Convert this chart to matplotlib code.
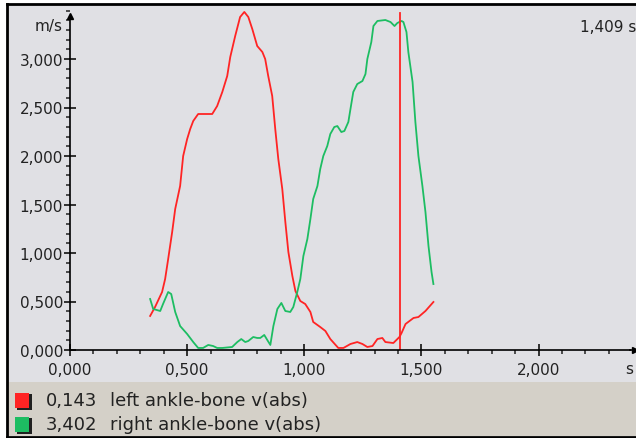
import numpy as np
import matplotlib
matplotlib.use("Agg")
import matplotlib.pyplot as plt
from matplotlib.patches import Rectangle
from matplotlib.ticker import MultipleLocator, FuncFormatter

# values (time in s, speed in m/s)
left_t = [0.342, 0.363, 0.393, 0.406, 0.419, 0.436, 0.449, 0.470, 0.483, 0.500,
          0.513, 0.526, 0.547, 0.607, 0.628, 0.650, 0.671, 0.684, 0.705, 0.726,
          0.744, 0.761, 0.778, 0.799, 0.821, 0.833, 0.846, 0.863, 0.876, 0.889,
          0.906, 0.919, 0.932, 0.949, 0.962, 0.983, 1.004, 1.026, 1.038, 1.068,
          1.090, 1.111, 1.145, 1.167, 1.197, 1.226, 1.248, 1.269, 1.291, 1.312,
          1.333, 1.346, 1.380, 1.406, 1.415, 1.432, 1.466, 1.487, 1.517, 1.551]
left_v = [0.351, 0.443, 0.598, 0.732, 0.938, 1.216, 1.454, 1.691, 2.000, 2.175,
          2.278, 2.361, 2.433, 2.433, 2.515, 2.660, 2.825, 3.021, 3.237, 3.433,
          3.485, 3.433, 3.309, 3.134, 3.072, 3.000, 2.825, 2.619, 2.278, 1.969,
          1.660, 1.320, 1.010, 0.763, 0.608, 0.505, 0.474, 0.392, 0.289, 0.237,
          0.196, 0.113, 0.021, 0.021, 0.062, 0.082, 0.062, 0.031, 0.041, 0.113,
          0.124, 0.082, 0.072, 0.134, 0.175, 0.268, 0.330, 0.340, 0.402, 0.495]

right_t = [0.342, 0.355, 0.385, 0.397, 0.419, 0.432, 0.449, 0.470, 0.500, 0.526,
           0.547, 0.568, 0.590, 0.611, 0.628, 0.650, 0.692, 0.714, 0.731, 0.748,
           0.761, 0.782, 0.799, 0.812, 0.829, 0.842, 0.855, 0.868, 0.885, 0.902,
           0.919, 0.940, 0.953, 0.970, 0.983, 0.996, 1.013, 1.026, 1.038, 1.056,
           1.068, 1.081, 1.098, 1.111, 1.128, 1.141, 1.158, 1.171, 1.188, 1.197,
           1.209, 1.226, 1.248, 1.261, 1.269, 1.286, 1.295, 1.312, 1.346, 1.368,
           1.385, 1.397, 1.415, 1.423, 1.436, 1.444, 1.462, 1.474, 1.487, 1.504,
           1.517, 1.530, 1.543, 1.551]
right_v = [0.526, 0.423, 0.402, 0.474, 0.598, 0.577, 0.392, 0.247, 0.165, 0.082,
           0.021, 0.021, 0.052, 0.041, 0.021, 0.021, 0.031, 0.082, 0.113, 0.082,
           0.093, 0.134, 0.124, 0.124, 0.155, 0.103, 0.052, 0.247, 0.423, 0.485,
           0.402, 0.392, 0.443, 0.598, 0.732, 0.969, 1.144, 1.351, 1.557, 1.691,
           1.866, 2.000, 2.103, 2.227, 2.299, 2.309, 2.247, 2.258, 2.351, 2.485,
           2.660, 2.742, 2.773, 2.845, 3.000, 3.175, 3.340, 3.392, 3.402, 3.381,
           3.340, 3.371, 3.392, 3.381, 3.278, 3.072, 2.763, 2.351, 2.000, 1.691,
           1.423, 1.072, 0.804, 0.680]

cursor_t = 1.409
series_names = ["left ankle-bone v(abs)", "right ankle-bone v(abs)"]
cursor_values = ["0,143", "3,402"]

red = "#ff2424"
green = "#1dbd62"

W, H = 636, 439
fig = plt.figure(figsize=(W / 100, H / 100), dpi=100)
fig.patch.set_facecolor("white")


def fx(px):
    return px / W


def fy(py):
    return 1 - py / H


# grey plot panel and legend strip, black frame (behind the axes)
fig.add_artist(Rectangle((fx(8), fy(383)), fx(636 - 8), (383 - 6) / H,
                         facecolor="#e0e0e4", edgecolor="none", zorder=-10))
fig.add_artist(Rectangle((fx(8), fy(437)), fx(636 - 8), (437 - 383) / H,
                         facecolor="#d4d0c8", edgecolor="none", zorder=-10))
fig.add_artist(plt.Line2D([fx(7), fx(7)], [fy(438), fy(5)], color="black", lw=2))
fig.add_artist(plt.Line2D([fx(7), 1], [fy(5), fy(5)], color="black", lw=2))
fig.add_artist(plt.Line2D([fx(7), 1], [fy(438), fy(438)], color="black", lw=2))

ax = fig.add_axes([fx(70), fy(351), fx(630 - 70), (351 - 11.5) / H])
ax.set_facecolor("none")
ax.set_xlim(0, 2.39)
ax.set_ylim(0, 3.5)

ax.plot(left_t, left_v, color=red, lw=1.3, clip_on=False)
ax.plot(right_t, right_v, color=green, lw=1.3, clip_on=False)
ax.plot([cursor_t, cursor_t], [0, 3.47], color=red, lw=1.3)

for s in ["top", "right"]:
    ax.spines[s].set_visible(False)
ax.spines["left"].set_bounds(0, 3.42)
ax.spines["left"].set_linewidth(1.2)
ax.spines["bottom"].set_linewidth(1.2)
# axis arrows
ax.plot([0], [3.44], marker="^", color="black", ms=4, clip_on=False)
ax.plot([2.39, 2.41], [0, 0], color="black", lw=1.2, clip_on=False)
ax.plot([2.41], [0], marker=">", color="black", ms=4, clip_on=False)

fmt = FuncFormatter(lambda v, p: f"{v:.3f}".replace(".", ","))
ax.xaxis.set_minor_locator(MultipleLocator(0.1))
ax.yaxis.set_minor_locator(MultipleLocator(0.1))
ax.set_xticks(np.arange(0, 2.01, 0.5))
ax.set_yticks(np.arange(0, 3.01, 0.5))
ax.xaxis.set_major_formatter(fmt)
ax.yaxis.set_major_formatter(fmt)
ax.tick_params(which="major", direction="inout", length=8, width=1.3,
               labelsize=11, colors="#222222")
ax.tick_params(axis="x", which="major", pad=5)
ax.tick_params(axis="y", which="major", pad=1)
ax.tick_params(which="minor", direction="out", length=3, width=1.1,
               color="#222222")

fig.text(fx(625), fy(369), "s", fontsize=11, color="#222222",
         ha="left", va="center")
fig.text(fx(63), fy(26), "m/s", fontsize=11, color="#222222",
         ha="right", va="center")
fig.text(fx(580), fy(27), "1,409 s", fontsize=11, color="#222222",
         ha="left", va="center")

# legend rows
for i, (name, val, col) in enumerate(zip(series_names, cursor_values, [red, green])):
    yc = 401 + i * 24
    fig.add_artist(Rectangle((fx(16.5), fy(yc + 9.5)), fx(15), 16 / H,
                             facecolor="#202020", edgecolor="none"))
    fig.add_artist(Rectangle((fx(15), fy(yc + 8)), fx(14), 15.5 / H,
                             facecolor=col, edgecolor="none"))
    fig.text(fx(46), fy(yc), val, fontsize=13, color="#222222",
             ha="left", va="center")
    fig.text(fx(110), fy(yc), name, fontsize=13, color="#222222",
             ha="left", va="center")

fig.savefig("out.png", dpi=100)
